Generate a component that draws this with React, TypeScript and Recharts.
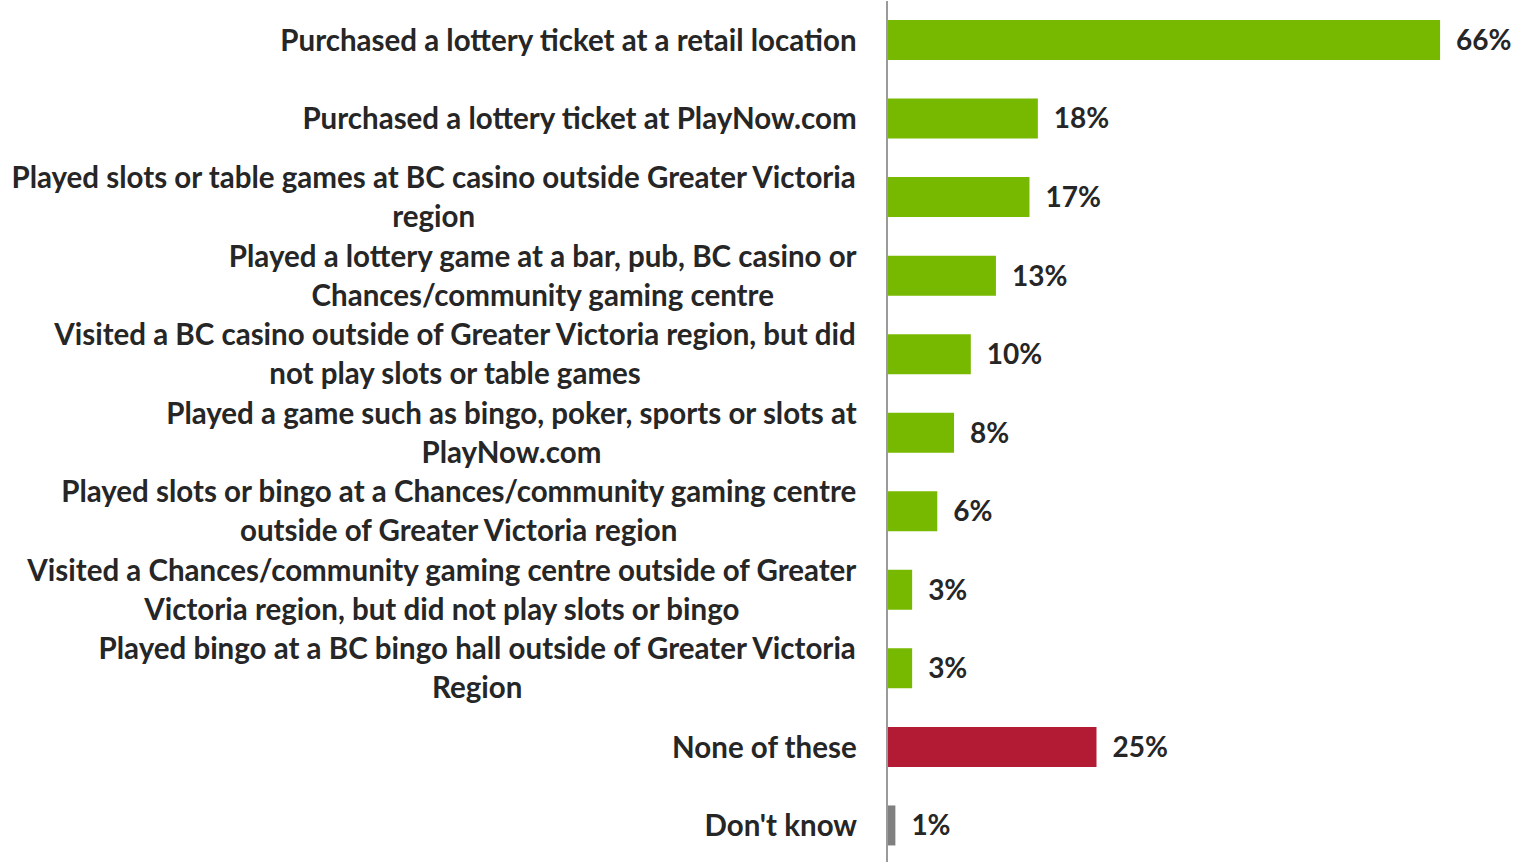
import { BarChart, Bar, XAxis, YAxis, Cell, LabelList } from "recharts";

const categories = [
  "Purchased a lottery ticket at a retail location",
  "Purchased a lottery ticket at PlayNow.com",
  "Played slots or table games at BC casino outside Greater Victoria\nregion",
  "Played a lottery game at a bar, pub, BC casino or\nChances/community gaming centre",
  "Visited a BC casino outside of Greater Victoria region, but did\nnot play slots or table games",
  "Played a game such as bingo, poker, sports or slots at\nPlayNow.com",
  "Played slots or bingo at a Chances/community gaming centre\noutside of Greater Victoria region",
  "Visited a Chances/community gaming centre outside of Greater\nVictoria region, but did not play slots or bingo",
  "Played bingo at a BC bingo hall outside of Greater Victoria\nRegion",
  "None of these",
  "Don't know",
];

const values = [66, 18, 17, 13, 10, 8, 6, 3, 3, 25, 1];

const GREEN = "#77b800";
const RED = "#b31b34";
const GREY = "#808080";
const barColors = values.map((_, i) => (i === 9 ? RED : i === 10 ? GREY : GREEN));

const FONT = "Lato";
const FONT_SIZE = 29.5;
const TEXT = "#262626";

const data = categories.map((name, i) => ({ name, value: values[i] }));

let ctx: CanvasRenderingContext2D | null = null;
const measure = (s: string) => {
  if (!ctx) ctx = document.createElement("canvas").getContext("2d");
  if (!ctx) return s.length * 13;
  ctx.font = `bold ${FONT_SIZE}px ${FONT}`;
  return ctx.measureText(s).width;
};

// multi-line labels: block right-aligned to the axis, lines centred inside it
const CategoryTick = (props: any) => {
  const { x, y, payload } = props;
  const lines: string[] = String(payload.value).split("\n");
  const maxW = Math.max(...lines.map(measure));
  const cx = x - maxW / 2;
  const lh = 39;
  const top = y - ((lines.length - 1) * lh) / 2;
  return (
    <text
      x={cx}
      y={top}
      textAnchor="middle"
      fill={TEXT}
      fontFamily={FONT}
      fontWeight="bold"
      fontSize={FONT_SIZE}
    >
      {lines.map((l, i) => (
        <tspan key={i} x={cx} y={top + i * lh} dy="0.35em">
          {l}
        </tspan>
      ))}
    </text>
  );
};

export default function App() {
  return (
    <div
      style={{
        position: "absolute",
        left: 0,
        top: 0,
        width: 1513,
        height: 862,
        overflow: "hidden",
        background: "#fff",
      }}
    >
      <BarChart
        width={1513}
        height={865}
        data={data}
        layout="vertical"
        margin={{ top: 1, right: 0, bottom: 0, left: 0 }}
      >
        <XAxis type="number" domain={[0, 74.7]} hide />
        <YAxis
          type="category"
          dataKey="name"
          width={887}
          tickLine={false}
          axisLine={{ stroke: "#9a9a9a", strokeWidth: 2 }}
          tick={<CategoryTick />}
          tickMargin={24}
          interval={0}
        />
        <Bar dataKey="value" barSize={40} isAnimationActive={false}>
          {data.map((_, i) => (
            <Cell key={i} fill={barColors[i]} />
          ))}
          <LabelList
            dataKey="value"
            position="right"
            offset={16}
            formatter={(v: any) => `${v}%`}
            fill={TEXT}
            fontFamily={FONT}
            fontWeight="bold"
            fontSize={28}
          />
        </Bar>
      </BarChart>
    </div>
  );
}
